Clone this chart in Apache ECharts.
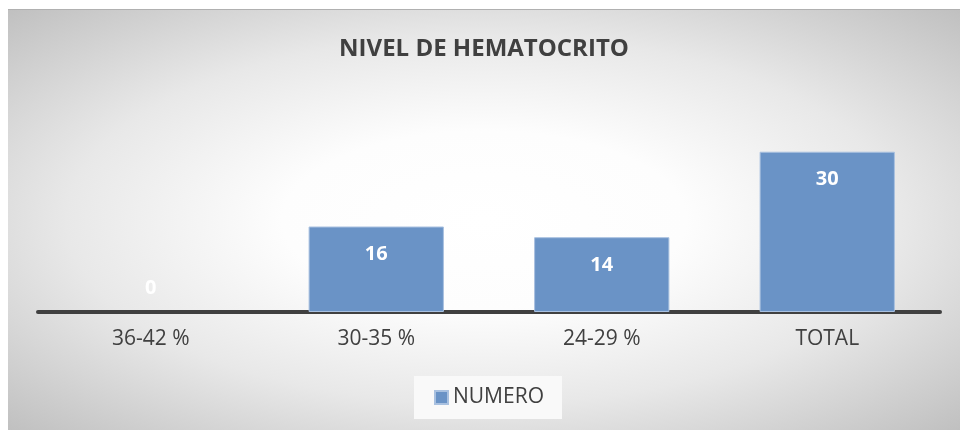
<!DOCTYPE html>
<html>
<head>
<meta charset="utf-8">
<script src="https://cdn.jsdelivr.net/npm/echarts@6/dist/echarts.min.js"></script>
<style>
  html, body { margin: 0; padding: 0; background: #fff; }
  #wrap { position: relative; width: 960px; height: 430px; background: #fff; }
  #chart {
    position: absolute; left: 8px; top: 9px; width: 952px; height: 421px;
    border-top: 1px solid #b0b0b0; box-sizing: border-box;
    background: radial-gradient(ellipse farthest-corner at 50% 50%, #ffffff 0%, #fdfdfd 30%, #e8e8e8 62%, #c0c0c0 100%);
  }
</style>
</head>
<body>
<div id="wrap"><div id="chart"></div></div>
<script>
var categories = ['36-42 %', '30-35 %', '24-29 %', 'TOTAL'];
var numero = [0, 16, 14, 30];

var myChart = echarts.init(document.getElementById('chart'));

// barras con etiqueta dentro; el 0 va encima del eje
var barData = numero.map(function (v) {
    if (v === 0) {
        return { value: v, itemStyle: { borderWidth: 0 }, label: { position: 'top', distance: 14 } };
    }
    return v;
});

var option = {
    animation: false,
    title: {
        text: 'NIVEL DE HEMATOCRITO',
        left: 'center',
        top: 22,
        textStyle: {
            fontFamily: 'Open Sans',
            fontWeight: 'bold',
            fontSize: 24,
            color: '#404040'
        }
    },
    legend: {
        bottom: 11,
        left: 406,
        itemWidth: 13,
        itemHeight: 13,
        itemGap: 6,
        padding: [11, 18, 11, 20],
        backgroundColor: '#f9f9f9',
        textStyle: { fontFamily: 'Open Sans', fontSize: 21, color: '#404040' },
        data: [{ name: 'NUMERO', icon: 'rect' }]
    },
    grid: { left: 30, right: 20, top: 115, bottom: 118 },
    xAxis: {
        type: 'category',
        data: categories,
        axisLine: { lineStyle: { color: '#404040', width: 4 } },
        axisTick: { show: false },
        axisLabel: { margin: 17, fontFamily: 'Open Sans', fontSize: 21, color: '#404040' }
    },
    yAxis: {
        type: 'value',
        min: 0,
        max: 35,
        show: false
    },
    series: [{
        name: 'NUMERO',
        type: 'bar',
        barWidth: '60%',
        data: barData,
        itemStyle: {
            color: '#6a93c6',
            borderColor: '#a9c1e0',
            borderWidth: 1
        },
        label: {
            show: true,
            position: 'insideTop',
            distance: 18,
            fontFamily: 'Open Sans',
            fontWeight: 'bold',
            fontSize: 20,
            color: '#ffffff'
        }
    }]
};

myChart.setOption(option);
</script>
</body>
</html>
